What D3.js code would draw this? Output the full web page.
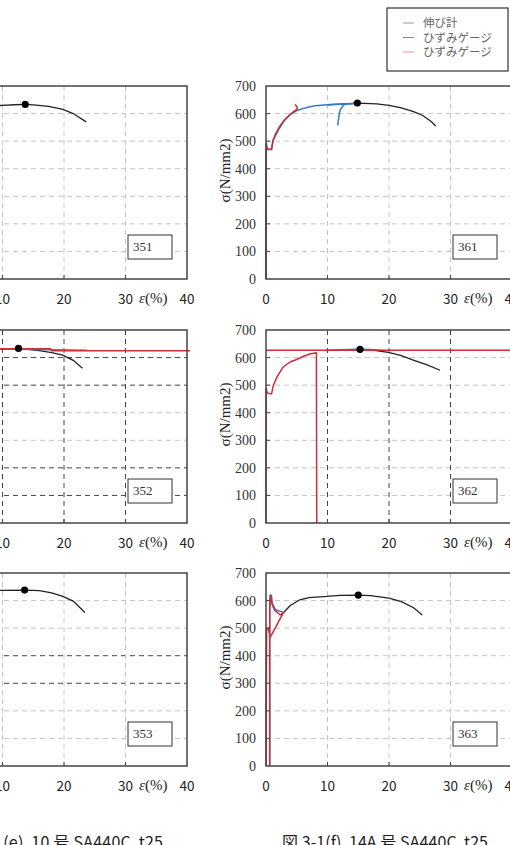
<!DOCTYPE html>
<html>
<head>
<meta charset="utf-8">
<script src="https://cdn.jsdelivr.net/npm/d3@7"></script>
<style>
  body { margin: 0; background: #fff; overflow: hidden; }
  svg { display: block; }
</style>
</head>
<body>
<div id="chart"></div>
<script>
// axis ticks
var xTicks = [0, 10, 20, 30, 40];
var yTicks = [0, 100, 200, 300, 400, 500, 600, 700];

// legend
var legendLabels = ["伸び計", "ひずみゲージ", "ひずみゲージ"];

// 10号 (left column) -- only the part right of ~9% is on the page
var black351 = [[5,615],[8,626],[10,630],[12,632],[13.7,633],[15.5,631],[17.5,626],[19.8,615],[21.5,600],[23.6,570]];
var peak351 = [13.7, 633];

var black352 = [[8,628],[10,631],[12.6,633],[14,630],[16,625],[18,618],[19.8,609],[21.5,590],[23,561]];
var blue352 = [[10,631],[18,628],[23.7,627]];
var red352 = [[5,631],[10,632],[17.8,632],[18,625],[40.5,625]];
var peak352 = [12.6, 633];

var black353 = [[8,636],[10,637],[13.6,638],[16,636],[18,628],[19.8,615],[21.5,598],[23.4,557]];
var peak353 = [13.6, 638];

// 14A号 (right column)
var black361 = [[10,632],[12,634],[14,636],[14.8,638],[16,637],[18,635],[20,630],[22,621],[24,607],[25.5,593],[26.8,572],[27.6,555]];
var blue361 = [[0,0],[0.03,490],[0.2,470],[0.9,470],[1.2,505],[2,540],[3,575],[4,598],[5,611],[6,618],[7,624],[8,628],[10,632],[12,634],[14,636],[14.6,637],
               [13,636],[12.6,630],[12.1,615],[11.9,598],[11.8,580],[11.65,557]];
var red361 = [[0,0],[0,200],[0.05,495],[0.15,472],[0.9,470],[1.1,500],[1.6,528],[2.2,553],[3,578],[4,598],[4.6,609],[5.1,617],[5.0,626],[4.7,633]];
var peak361 = [14.85, 638];

var black362 = [[12,628],[15.3,630],[17,628],[19.9,619],[22,607],[23.95,591],[26,575],[28.3,554]];
var blue362 = [[9.5,626],[12,628],[15,630],[17,629],[19,626]];
var red362 = [[0,0],[0,180],[0.05,490],[0.15,475],[0.4,470],[0.9,468],[1.2,500],[1.8,530],[2.8,566],[4,585],[5,593],[6,604],[7.2,614],[8.2,617],[8.2,530],[8.25,0],
              null, [0,627],[41,627]];
var peak362 = [15.3, 630];

var black363 = [[2.8,555],[3.9,581],[5.5,603],[7,611],[9.9,615],[12,619],[15,620],[17,618],[20,609],[22,596],[24,574],[25.4,548]];
var blue363 = [[0.6,0],[0.6,600],[0.75,620],[0.9,618],[1.0,592],[1.5,568],[2,563],[2.8,558]];
var red363 = [[0,0],[0.1,495],[0.35,500],[0.7,468],[1.5,500],[2.2,530],[2.8,555],[2.3,548],[1.4,565],[1.0,585],[0.8,612],[0.7,620],[0.6,560],[0.6,0]];
var peak363 = [15, 620];

var captions = ["図 3-1(e)  10 号 SA440C  t25", "図 3-1(f)  14A 号 SA440C  t25"];

// layout
var W = 510, H = 845;
var colLeft = [-59, 266],
    rowTop = [86, 330, 573],
    plotW = 246,
    plotH = 193;

var panels = [
  {id: "351", col: 0, row: 0, black: black351, blue: [], red: [], peak: peak351, darkH: [], darkV: []},
  {id: "352", col: 0, row: 1, black: black352, blue: blue352, red: red352, peak: peak352, darkH: [100, 200, 500, 600], darkV: [10, 20, 30]},
  {id: "353", col: 0, row: 2, black: black353, blue: [], red: [], peak: peak353, darkH: [300, 400], darkV: []},
  {id: "361", col: 1, row: 0, black: black361, blue: blue361, red: red361, peak: peak361, darkH: [], darkV: []},
  {id: "362", col: 1, row: 1, black: black362, blue: blue362, red: red362, peak: peak362, darkH: [], darkV: [10, 20, 30]},
  {id: "363", col: 1, row: 2, black: black363, blue: blue363, red: red363, peak: peak363, darkH: [], darkV: []}
];

var svg = d3.select("#chart").append("svg")
    .attr("width", W)
    .attr("height", H);

var x = d3.scaleLinear().domain([0, 40]).range([0, plotW]);
var y = d3.scaleLinear().domain([0, 700]).range([plotH, 0]);

var line = d3.line()
    .defined(function(d) { return d != null; })
    .x(function(d) { return x(d[0]); })
    .y(function(d) { return y(d[1]); });

panels.forEach(function(p) {
  var g = svg.append("g")
      .attr("transform", "translate(" + colLeft[p.col] + "," + rowTop[p.row] + ")");

  // grid lines
  g.selectAll(".hgrid")
    .data(yTicks.slice(1, -1))
    .enter().append("line")
      .attr("x1", 0).attr("x2", plotW)
      .attr("y1", function(d) { return y(d); })
      .attr("y2", function(d) { return y(d); })
      .attr("stroke", function(d) { return p.darkH.indexOf(d) >= 0 ? "#444" : "#c4c4c4"; })
      .attr("stroke-width", 1)
      .attr("stroke-dasharray", "5,4");

  g.selectAll(".vgrid")
    .data(xTicks.slice(1, -1))
    .enter().append("line")
      .attr("y1", 0).attr("y2", plotH)
      .attr("x1", function(d) { return x(d); })
      .attr("x2", function(d) { return x(d); })
      .attr("stroke", function(d) { return p.darkV.indexOf(d) >= 0 ? "#444" : "#c4c4c4"; })
      .attr("stroke-width", 1)
      .attr("stroke-dasharray", "5,4");

  // curves: extensometer, then the two gauges
  g.append("path").attr("d", line(p.black))
      .attr("fill", "none").attr("stroke", "#222").attr("stroke-width", 1.3);
  if (p.blue.length) {
    g.append("path").attr("d", line(p.blue))
        .attr("fill", "none").attr("stroke", "#3479c8").attr("stroke-width", 1.5);
  }
  if (p.red.length) {
    g.append("path").attr("d", line(p.red))
        .attr("fill", "none").attr("stroke", "#d02c3a").attr("stroke-width", 1.5);
  }

  g.append("circle")
      .attr("cx", x(p.peak[0]))
      .attr("cy", y(p.peak[1]))
      .attr("r", 3.6)
      .attr("fill", "#000");

  // frame
  g.append("rect")
      .attr("width", plotW).attr("height", plotH)
      .attr("fill", "none")
      .attr("stroke", "#444")
      .attr("stroke-width", 1.5);

  // inward ticks
  g.selectAll(".yt")
    .data(yTicks.slice(1, -1))
    .enter().append("line")
      .attr("x1", 0).attr("x2", 4)
      .attr("y1", function(d) { return y(d); })
      .attr("y2", function(d) { return y(d); })
      .attr("stroke", "#444");
  g.selectAll(".xt")
    .data(xTicks.slice(1, -1))
    .enter().append("line")
      .attr("y1", plotH).attr("y2", plotH - 4)
      .attr("x1", function(d) { return x(d); })
      .attr("x2", function(d) { return x(d); })
      .attr("stroke", "#444");

  // tick labels
  g.selectAll(".ylab")
    .data(yTicks)
    .enter().append("text")
      .attr("x", -10)
      .attr("y", function(d) { return y(d) + 5; })
      .attr("text-anchor", "end")
      .style("font-family", "'Liberation Serif', serif")
      .style("font-size", "14px")
      .attr("fill", "#333")
      .text(function(d) { return d; });

  g.selectAll(".xlab")
    .data(xTicks)
    .enter().append("text")
      .attr("x", function(d) { return x(d); })
      .attr("y", plotH + 25)
      .attr("text-anchor", "middle")
      .style("font-family", "'Noto Sans CJK JP', sans-serif")
      .style("font-size", "13.5px")
      .attr("fill", "#222")
      .text(function(d) { return d; });

  g.append("text")
      .attr("x", x(32.2))
      .attr("y", plotH + 24)
      .style("font-family", "'Liberation Serif', serif")
      .style("font-size", "15px")
      .attr("fill", "#222")
      .html("<tspan font-style='italic'>ε</tspan>(%)");

  // y title
  g.append("text")
      .attr("transform", "translate(-36," + (plotH / 2 - 12) + ") rotate(-90)")
      .attr("text-anchor", "middle")
      .style("font-family", "'Liberation Serif', serif")
      .style("font-size", "15px")
      .attr("fill", "#222")
      .text("σ(N/mm2)");

  // specimen id box
  g.append("rect")
      .attr("x", 187).attr("y", 149)
      .attr("width", 44).attr("height", 24)
      .attr("fill", "#fff")
      .attr("stroke", "#333");
  g.append("text")
      .attr("x", 192).attr("y", 165)
      .style("font-family", "'Liberation Serif', serif")
      .style("font-size", "13px")
      .attr("fill", "#333")
      .text(p.id);
});

// legend
var legColors = ["#999", "#7d7dc8", "#f08c8c"];
var leg = svg.append("g");
leg.append("rect")
    .attr("x", 387).attr("y", 8)
    .attr("width", 121).attr("height", 63)
    .attr("fill", "#fff")
    .attr("stroke", "#333")
    .attr("stroke-width", 1.2);
legendLabels.forEach(function(t, i) {
  var ly = 23 + i * 14.5;
  leg.append("line")
      .attr("x1", 403).attr("x2", 414)
      .attr("y1", ly).attr("y2", ly)
      .attr("stroke", legColors[i]);
  leg.append("text")
      .attr("x", 423).attr("y", ly + 4)
      .style("font-family", "'Noto Sans CJK JP', sans-serif")
      .style("font-size", "11.5px")
      .attr("fill", "#666")
      .text(t);
});

// captions
svg.selectAll(".cap")
  .data(captions)
  .enter().append("text")
    .attr("x", function(d, i) { return i === 0 ? -41 : 282; })
    .attr("y", 848)
    .attr("textLength", function(d, i) { return i === 0 ? 204 : 206; })
    .attr("lengthAdjust", "spacing")
    .style("font-family", "'Noto Sans CJK JP', sans-serif")
    .style("font-size", "16px")
    .attr("fill", "#222")
    .style("white-space", "pre")
    .text(function(d) { return d; });
</script>
</body>
</html>
